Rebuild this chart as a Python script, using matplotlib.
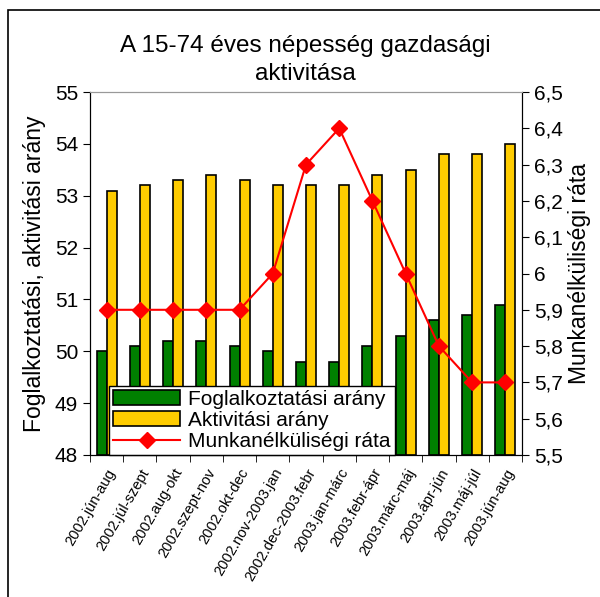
import numpy as np
import matplotlib.pyplot as plt
from matplotlib.patches import Rectangle
from matplotlib.ticker import FuncFormatter

categories = ["2002.jún-aug", "2002.júl-szept", "2002.aug-okt", "2002.szept-nov",
              "2002.okt-dec", "2002.nov-2003.jan", "2002.dec-2003.febr",
              "2003.jan-márc", "2003.febr-ápr", "2003.márc-máj", "2003.ápr-jún",
              "2003.máj-júl", "2003.jún-aug"]
foglalkoztatasi = [50.0, 50.1, 50.2, 50.2, 50.1, 50.0, 49.8, 49.8, 50.1, 50.3, 50.6, 50.7, 50.9]
aktivitasi = [53.1, 53.2, 53.3, 53.4, 53.3, 53.2, 53.2, 53.2, 53.4, 53.5, 53.8, 53.8, 54.0]
munkanelkuli = [5.9, 5.9, 5.9, 5.9, 5.9, 6.0, 6.3, 6.4, 6.2, 6.0, 5.8, 5.7, 5.7]

plt.rcParams['font.family'] = ['Liberation Sans', 'DejaVu Sans']


def fmt_comma(v, pos):
    s = f"{v:.1f}".replace(".", ",")
    return s[:-2] if s.endswith(",0") else s


fig = plt.figure(figsize=(6.0, 5.97), dpi=100)
ax = fig.add_axes([90/600, 1-455/597, (522-90)/600, (455-92)/597])
ax2 = ax.twinx()

x = np.arange(len(categories))
w = 0.3
b1 = ax.bar(x - w/2, np.array(foglalkoztatasi) - 48, w, bottom=48, color="#008000",
            edgecolor="black", linewidth=1.2, label="Foglalkoztatási arány")
b2 = ax.bar(x + w/2, np.array(aktivitasi) - 48, w, bottom=48, color="#FFCC00",
            edgecolor="black", linewidth=1.2, label="Aktivitási arány")
l1, = ax2.plot(x, munkanelkuli, color="red", marker="D", markersize=8,
               linewidth=1.5, label="Munkanélküliségi ráta")

ax.set_xlim(-0.5, len(categories) - 0.5)
ax.set_ylim(48, 55)
ax2.set_ylim(5.5, 6.5)
ax.set_yticks(range(48, 56))
ax2.set_yticks(np.arange(5.5, 6.51, 0.1))
ax2.yaxis.set_major_formatter(FuncFormatter(fmt_comma))

ax.set_xticks(x)
ax.set_xticklabels(categories, rotation=60, ha="right", rotation_mode="anchor", fontsize=10.5)
ax.set_xticks(np.arange(-0.5, len(categories)), minor=True)
ax.tick_params(axis="x", which="major", length=0, pad=8)
ax.tick_params(axis="x", which="minor", length=5, direction="out")
ax.tick_params(axis="y", labelsize=15, length=5, direction="out")
ax2.tick_params(axis="y", labelsize=15, length=5, direction="out")

for a in (ax, ax2):
    a.spines["top"].set_color("#999999")
ax.set_ylabel("Foglalkoztatási, aktivitási arány", fontsize=16.5, labelpad=6)
ax2.set_ylabel("Munkanélküliségi ráta", fontsize=16.5, labelpad=4)

fig.text(305/600, 1-60/597, "A 15-74 éves népesség gazdasági\naktivitása",
         ha="center", va="center", fontsize=17.5, linespacing=1.4)

leg = ax.legend(handles=[b1, b2, l1], loc="lower left", bbox_to_anchor=(0.044, 0.0),
                fontsize=15, frameon=True, fancybox=False, framealpha=1,
                edgecolor="black", borderpad=0.2, labelspacing=0.1,
                handlelength=3.2, handletextpad=0.4, borderaxespad=0)
leg.get_frame().set_linewidth(1.0)

fig.patches.append(Rectangle((8/600, -0.1), 1.2, 1 - 10/597 + 0.1,
                             transform=fig.transFigure, fill=False,
                             edgecolor="black", linewidth=1.2))

fig.savefig("out.png", dpi=100)
